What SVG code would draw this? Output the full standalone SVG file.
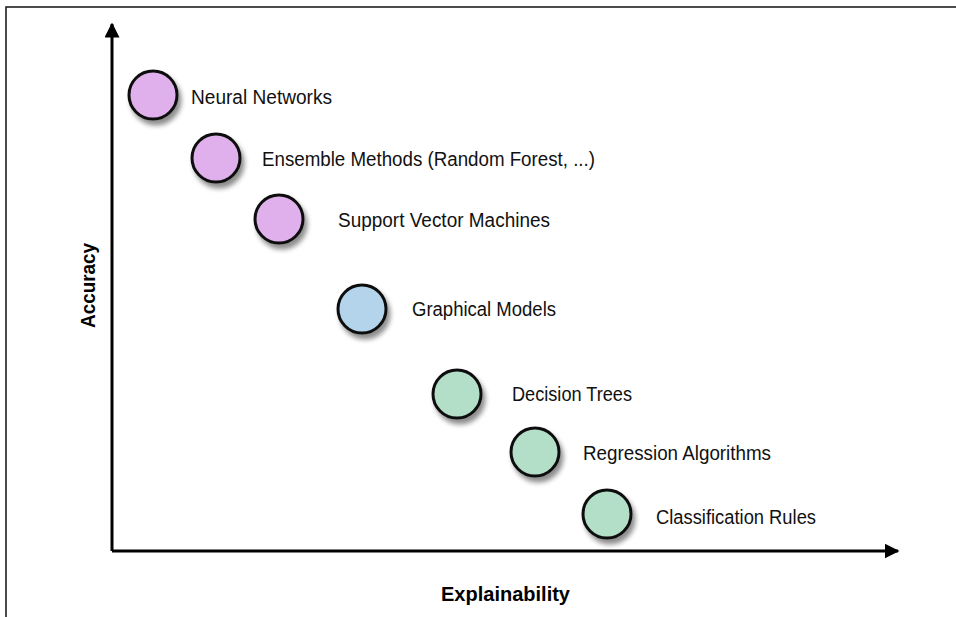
<svg xmlns="http://www.w3.org/2000/svg" width="956" height="617" viewBox="0 0 956 617">
<style>
.lbl{font-family:"Liberation Sans Narrow","Liberation Sans",sans-serif;font-size:20px;fill:#111}
.ax{font-family:"Liberation Sans",sans-serif;font-size:20px;font-weight:bold;fill:#000}
.dot{stroke:#111;stroke-width:3;filter:url(#sh)}
.p{fill:#e0b0ec}.b{fill:#b3d4ea}.g{fill:#b3dfc8}
</style>
<defs>
<filter id="sh" x="-50%" y="-50%" width="200%" height="200%">
<feGaussianBlur in="SourceAlpha" stdDeviation="2.5"/>
<feOffset dx="3" dy="5" result="o"/>
<feComponentTransfer><feFuncA type="linear" slope="0.45"/></feComponentTransfer>
<feMerge><feMergeNode/><feMergeNode in="SourceGraphic"/></feMerge>
</filter>
<marker id="ar" viewBox="0 0 10 10" refX="9" refY="5" markerWidth="5" markerHeight="5" orient="auto" markerUnits="strokeWidth"><path d="M0,0L10,5L0,10z" fill="#000"/></marker>
</defs>
<rect width="956" height="617" fill="#fff"/>
<g id="frame" fill="none" stroke="#111" stroke-width="1.5"><path d="M6,617V7H956"/></g>
<g id="connectors" fill="none" stroke="#000" stroke-width="3">
<path d="M112,551V24" marker-end="url(#ar)"/>
<path d="M112,551H898" marker-end="url(#ar)"/>
</g>
<g id="n1"><circle class="dot p" cx="153" cy="95" r="24"/><text class="lbl" x="191" y="104" textLength="141" lengthAdjust="spacingAndGlyphs">Neural Networks</text></g>
<g id="n2"><circle class="dot p" cx="216" cy="158" r="24"/><text class="lbl" x="262" y="166" textLength="333" lengthAdjust="spacingAndGlyphs">Ensemble Methods (Random Forest, ...)</text></g>
<g id="n3"><circle class="dot p" cx="279" cy="219" r="24"/><text class="lbl" x="338" y="227" textLength="212" lengthAdjust="spacingAndGlyphs">Support Vector Machines</text></g>
<g id="n4"><circle class="dot b" cx="362" cy="309" r="24"/><text class="lbl" x="412" y="316" textLength="144" lengthAdjust="spacingAndGlyphs">Graphical Models</text></g>
<g id="n5"><circle class="dot g" cx="457" cy="394" r="24"/><text class="lbl" x="512" y="401" textLength="120" lengthAdjust="spacingAndGlyphs">Decision Trees</text></g>
<g id="n6"><circle class="dot g" cx="535" cy="452" r="24"/><text class="lbl" x="583" y="460" textLength="188" lengthAdjust="spacingAndGlyphs">Regression Algorithms</text></g>
<g id="n7"><circle class="dot g" cx="607" cy="514" r="24"/><text class="lbl" x="656" y="524" textLength="160" lengthAdjust="spacingAndGlyphs">Classification Rules</text></g>
<text class="ax" x="441" y="601" textLength="129" lengthAdjust="spacingAndGlyphs">Explainability</text>
<text class="ax" transform="translate(95,328) rotate(-90)" x="0" y="0" textLength="85" lengthAdjust="spacingAndGlyphs">Accuracy</text>
</svg>
